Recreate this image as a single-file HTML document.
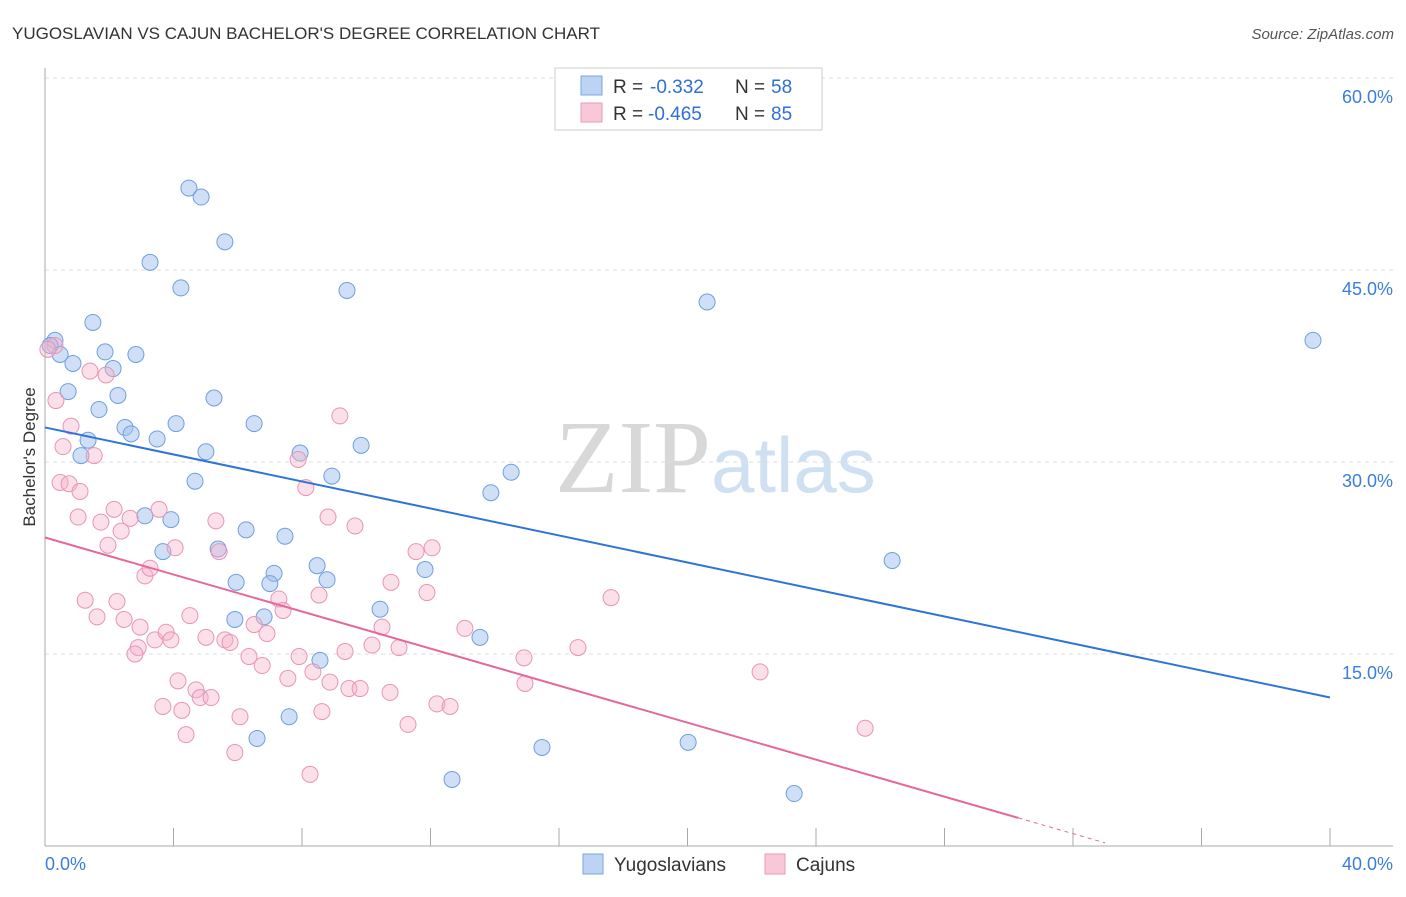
<!DOCTYPE html>
<html><head><meta charset="utf-8"><style>
body{margin:0;background:#fff;font-family:"Liberation Sans",sans-serif}
svg text{font-family:"Liberation Sans",sans-serif}
</style></head><body>
<svg id="c" width="1406" height="892">
<text x="12" y="39" font-size="17" fill="#333">YUGOSLAVIAN VS CAJUN BACHELOR'S DEGREE CORRELATION CHART</text>
<text x="1394" y="39" font-size="15" fill="#555" text-anchor="end" font-style="italic">Source: ZipAtlas.com</text>
<text x="35" y="457" font-size="17" fill="#333" text-anchor="middle" transform="rotate(-90 35 457)">Bachelor's Degree</text>
<text x="555" y="492" font-size="104" fill="#d8d8d8" font-family="Liberation Serif"><tspan fill="#d8d8d8" font-family="Liberation Serif">ZIP</tspan><tspan fill="#cfe0f3" font-size="78" font-family="Liberation Sans">atlas</tspan></text>
<g id="grid"></g><g id="axes"></g><g id="pts"></g><g id="lines"></g>
<g>
<rect x="555" y="68" width="267" height="62" fill="#fff" stroke="#ccc"/>
<rect x="581" y="76" width="21" height="19" fill="#bcd3f3" stroke="#7aa6e0"/>
<rect x="581" y="103" width="21" height="19" fill="#f8c8d8" stroke="#e89ab5"/>
<text x="613" y="93" font-size="19" fill="#333">R =</text>
<text x="650" y="93" font-size="19" fill="#2f6fd6">-0.332</text>
<text x="735" y="93" font-size="19" fill="#333">N =</text>
<text x="771" y="93" font-size="19" fill="#2f6fd6">58</text>
<text x="613" y="120" font-size="19" fill="#333">R =</text>
<text x="648" y="120" font-size="19" fill="#2f6fd6">-0.465</text>
<text x="735" y="120" font-size="19" fill="#333">N =</text>
<text x="771" y="120" font-size="19" fill="#2f6fd6">85</text>
</g>
<g>
<rect x="583" y="854" width="20" height="20" fill="#bcd3f3" stroke="#7aa6e0"/>
<text x="614" y="871" font-size="19" fill="#333">Yugoslavians</text>
<rect x="765" y="854" width="20" height="20" fill="#f8c8d8" stroke="#e89ab5"/>
<text x="796" y="871" font-size="19" fill="#333">Cajuns</text>
</g>
</svg>
<script>
const yTicks=[15,30,45,60];
const yTickLabels=["15.0%","30.0%","45.0%","60.0%"];
const xTicks=[0,4,8,12,16,20,24,28,32,36,40];
const blueX=[0.31,0.16,0.47,0.87,1.49,1.87,2.83,2.12,0.72,2.27,1.68,1.34,1.12,2.49,2.68,3.49,4.08,3.27,4.23,4.48,4.86,5.60,5.26,5.01,4.67,6.51,7.94,8.93,9.84,9.40,3.11,3.92,3.67,5.39,6.26,7.47,5.95,7.13,7.00,8.47,8.78,6.82,5.91,10.43,11.83,8.56,13.54,7.60,6.60,12.67,14.51,13.88,15.47,20.02,20.61,23.32,26.37,39.47];
const blueY=[39.5,39.1,38.4,37.7,40.9,38.6,38.4,37.3,35.5,35.2,34.1,31.7,30.5,32.7,32.2,31.8,33.0,45.6,43.6,51.4,50.7,47.2,35.0,30.8,28.5,33.0,30.7,28.9,31.3,43.4,25.8,25.5,23.0,23.2,24.7,24.2,20.6,21.3,20.5,21.9,20.8,17.9,17.7,18.5,21.6,14.5,16.3,10.1,8.4,5.2,29.2,27.6,7.7,8.1,42.5,4.1,22.3,39.5];
const pinkX=[0.31,0.09,0.34,0.56,0.81,0.47,0.75,1.09,1.53,1.40,1.90,1.03,1.74,2.15,2.65,2.37,1.96,3.55,4.05,3.11,3.27,1.25,1.62,2.24,2.46,2.96,2.90,2.80,3.42,3.77,3.92,4.51,4.14,3.67,4.26,4.39,4.70,4.83,5.17,5.01,5.60,5.76,5.32,5.42,6.07,5.91,6.35,6.76,6.51,6.91,7.28,7.41,7.56,7.91,7.88,8.12,8.34,8.53,8.81,8.87,8.62,8.25,9.18,9.65,9.34,9.46,9.81,10.18,10.49,10.77,10.74,11.02,11.30,11.55,12.05,11.89,12.20,12.61,13.07,14.91,14.94,16.59,17.62,22.26,25.53];
const pinkY=[39.1,38.8,34.8,31.2,32.8,28.4,28.3,27.7,30.5,37.1,36.8,25.7,25.3,26.3,25.6,24.6,23.5,26.3,23.3,21.1,21.7,19.2,17.9,19.1,17.7,17.1,15.5,15.0,16.1,16.7,16.1,18.0,12.9,10.9,10.6,8.7,12.2,11.6,11.6,16.3,16.1,15.9,25.4,23.0,10.1,7.3,14.8,14.1,17.3,16.6,19.3,18.4,13.1,14.8,30.2,28.0,13.6,19.6,25.7,12.8,10.5,5.6,33.6,25.0,15.2,12.3,12.3,15.7,17.1,20.6,12.0,15.5,9.5,23.0,23.3,19.8,11.1,10.9,17.0,14.7,12.7,15.5,19.4,13.6,9.2];
const blueTrend=[32.7,11.6];
const pinkTrend=[24.1,-0.723];
const NS="http://www.w3.org/2000/svg";
const X=v=>45+v/40*1285, Y=v=>846-v/15*192;
function mk(t,a,p){const e=document.createElementNS(NS,t);for(const k in a)e.setAttribute(k,a[k]);p.appendChild(e);return e;}
const grid=document.getElementById('grid'),axes=document.getElementById('axes'),pts=document.getElementById('pts'),lines=document.getElementById('lines');
yTicks.forEach((v,i)=>{
 const l=mk('line',{x1:45,x2:1393,y1:Y(v),y2:Y(v),stroke:'#ddd','stroke-dasharray':'4,4'},grid);
 
 
 const t=mk('text',{x:1393,y:Y(v)+25,'font-size':18,fill:'#3b7ddd','text-anchor':'end'},axes);
 t.textContent=yTickLabels[i];
 
 
});
mk('line',{x1:45,x2:45,y1:68,y2:846,stroke:'#aaa'},axes);
mk('line',{x1:45,x2:1393,y1:846,y2:846,stroke:'#aaa'},axes);
xTicks.forEach(v=>{const l=mk('line',{x1:X(v),x2:X(v),y1:828,y2:846,stroke:'#aaa'},axes);
 
 });
let t=mk('text',{x:45,y:870,'font-size':18,fill:'#3b7ddd'},axes);t.textContent='0.0%';


t=mk('text',{x:1393,y:870,'font-size':18,fill:'#3b7ddd','text-anchor':'end'},axes);t.textContent='40.0%';


blueX.forEach((x,i)=>{const c=mk('circle',{cx:X(x),cy:Y(blueY[i]),r:8,fill:'rgba(160,192,238,0.5)',stroke:'#6f9fe0','stroke-width':1},pts);
 
 });
pinkX.forEach((x,i)=>{const c=mk('circle',{cx:X(x),cy:Y(pinkY[i]),r:8,fill:'rgba(246,178,202,0.4)',stroke:'#e895b2','stroke-width':1},pts);
 
 });
let l=mk('line',{x1:X(0),y1:Y(blueTrend[0]),x2:X(40),y2:Y(blueTrend[1]),stroke:'#2f74d8','stroke-width':2},lines);


const py=x=>pinkTrend[0]+pinkTrend[1]*x;
l=mk('line',{x1:X(0),y1:Y(py(0)),x2:X(30.3),y2:Y(py(30.3)),stroke:'#e5689a','stroke-width':2},lines);


l=mk('line',{x1:X(30.3),y1:Y(py(30.3)),x2:X(33),y2:Y(py(33)),stroke:'#e5689a','stroke-width':1,'stroke-dasharray':'4,4'},lines);


</script>
</body></html>
